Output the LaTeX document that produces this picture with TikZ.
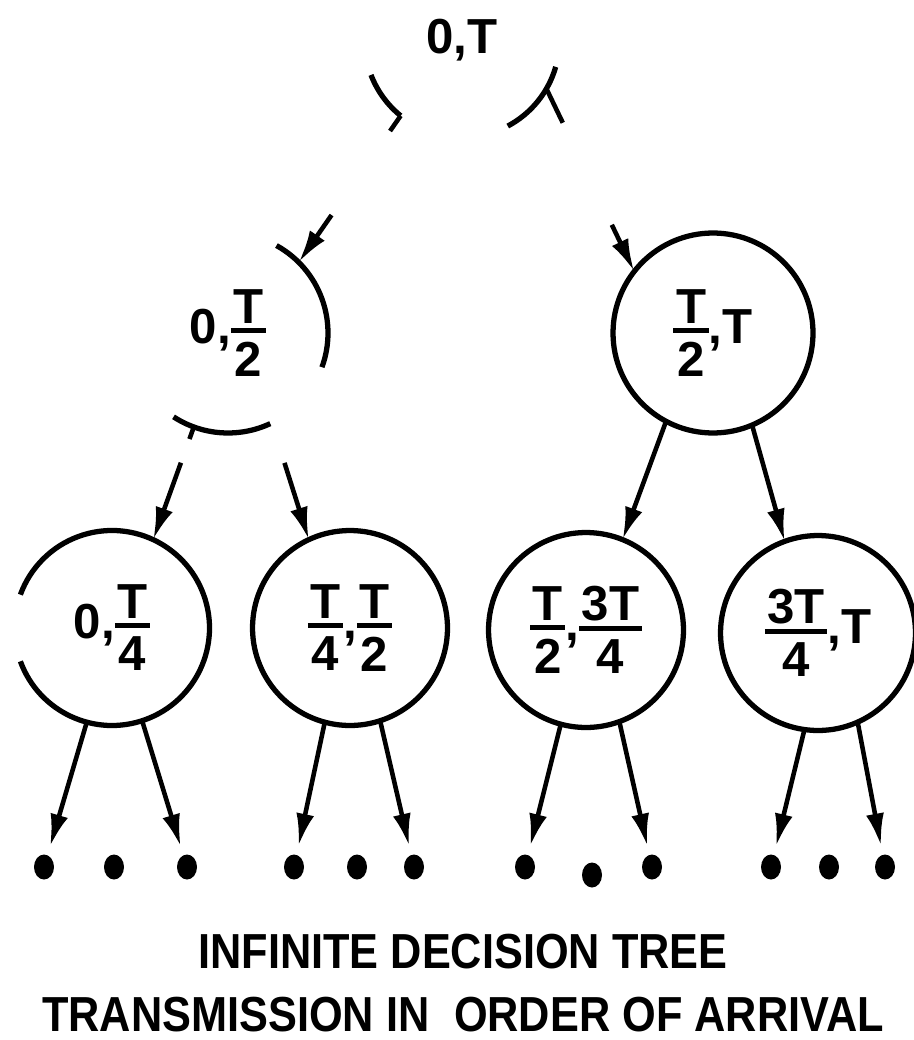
\documentclass[tikz,border=0pt]{standalone}
\usepackage{fontspec}
\setmainfont{Liberation Sans}
\newfontfamily\capfont[FakeStretch=0.88]{Liberation Sans}
\usepackage{tikz}
\usetikzlibrary{arrows.meta,shapes.geometric}
\newcommand\fr[2]{\ensuremath{\vcenter{\offinterlineskip\halign{\hfil\kern1.5pt##\kern1.5pt\hfil\cr #1\cr\noalign{\kern2.5pt\hrule height 2.8pt\kern5pt}#2\cr}}}}
\tikzset{
  treenode/.style = {circle, draw, line width=3pt, minimum size=3.9cm, inner sep=0pt,
                     outer sep=0pt, font=\fontsize{28}{30}\selectfont\bfseries},
  treepart/.style = {treenode, draw=none},
  treearc/.style  = {line width=3pt},
  treeflow/.style = {-{Latex[length=6.5mm,width=3.6mm]}, line width=2.6pt},
  treestub/.style = {line width=2.6pt},
  treeleaf/.style = {ellipse, fill, minimum width=4mm, minimum height=5mm,
                     inner sep=0pt, outer sep=1.8mm},
  treelbl/.style  = {font=\capfont\fontsize{28}{36}\selectfont\bfseries, align=center,
                     inner sep=0pt},
}
\begin{document}
\begin{tikzpicture}[x=0.02cm, y=0.02cm]
  \useasboundingbox (0,0) rectangle (913,-1040);

  \node[treepart] (root) at (462,-40) {0,T};
  \node[treepart, minimum size=4cm] (lc) at (228,-333) {0,\fr{T}{2}};
  \node[treenode, minimum size=4cm] (rc) at (713,-333) {\fr{T}{2},T};
  \node[treepart] (g1) at (112,-628) {0,\fr{T}{4}};
  \node[treenode] (g2) at (350,-628) {\fr{T}{4},\fr{T}{2}};
  \node[treenode] (g3) at (586,-630) {\fr{T}{2},\fr{3T}{4}};
  \node[treenode] (g4) at (818,-633) {\fr{3T}{4},T};

  \draw[treearc] (root.201) arc[start angle=201, end angle=231, radius=1.95cm];
  \draw[treearc] (root.298) arc[start angle=298, end angle=344, radius=1.95cm];
  \draw[treearc] (lc.61) arc[start angle=61, end angle=-20, radius=2cm];
  \draw[treearc] (lc.237) arc[start angle=237, end angle=295, radius=2cm];
  \draw[treearc] (g1.200) arc[start angle=200, end angle=520, radius=1.95cm];

  \node[treeleaf] (d11) at (44,-867) {};
  \node[treeleaf] (d12) at (114,-867) {};
  \node[treeleaf] (d13) at (187,-867) {};
  \node[treeleaf] (d21) at (294,-867) {};
  \node[treeleaf] (d22) at (357,-867) {};
  \node[treeleaf] (d23) at (414,-867) {};
  \node[treeleaf] (d31) at (525,-867) {};
  \node[treeleaf] (d32) at (592,-875) {};
  \node[treeleaf] (d33) at (652,-867) {};
  \node[treeleaf] (d41) at (771,-867) {};
  \node[treeleaf] (d42) at (829,-867) {};
  \node[treeleaf] (d43) at (885,-867) {};

  \draw[treestub, shorten >=3.2cm] (root.231) -- (lc.45);
  \draw[treeflow, shorten <=2.42cm] (root.231) -- (lc.45);
  \draw[treestub, shorten >=3.3cm] (root.330) -- (rc.142);
  \draw[treeflow, shorten <=3.02cm] (root.330) -- (rc.142);

  \draw[treestub, shorten >=2.14cm] (lc.250) -- (g1.65);
  \draw[treeflow, shorten <=0.76cm] (lc.250) -- (g1.65);
  \draw[treeflow, shorten <=0.84cm] (lc.296) -- (g2.115);
  \draw[treeflow] (rc.242) -- (g3.68);
  \draw[treeflow] (rc.293) -- (g4.110);

  \draw[treeflow] (g1.255) -- (d11);
  \draw[treeflow] (g1.288) -- (d13);
  \draw[treeflow] (g2.255) -- (d21);
  \draw[treeflow] (g2.288) -- (d23);
  \draw[treeflow] (g3.255) -- (d31);
  \draw[treeflow] (g3.290) -- (d33);
  \draw[treeflow] (g4.262) -- (d41);
  \draw[treeflow] (g4.294) -- (d43);

  \node[treelbl] (cap) at (463,-983) {INFINITE DECISION TREE\\TRANSMISSION IN\enspace ORDER OF ARRIVAL};
\end{tikzpicture}
\end{document}
